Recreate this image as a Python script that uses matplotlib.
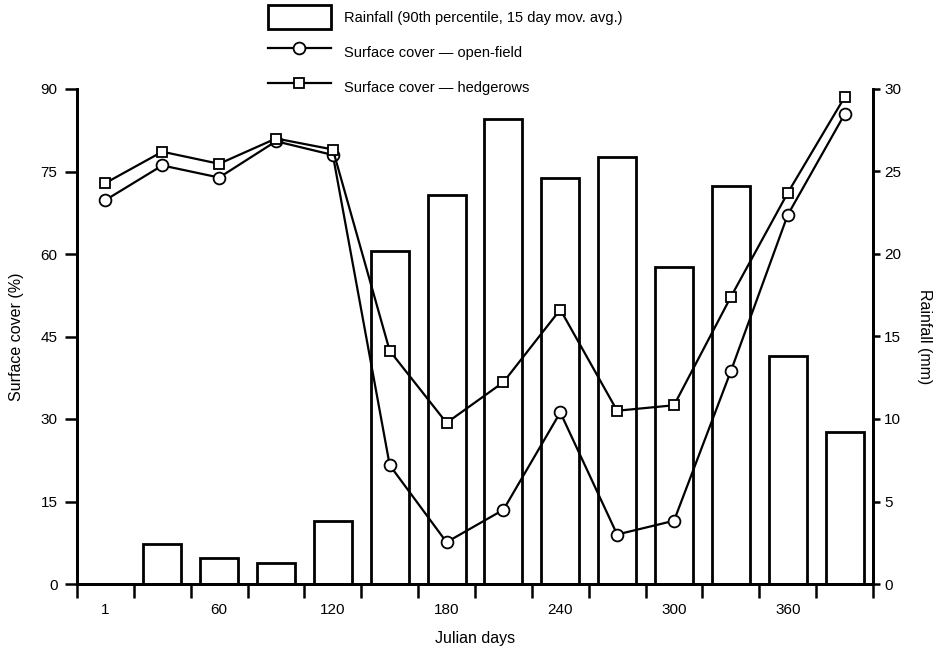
import matplotlib.pyplot as plt
from matplotlib.ticker import FixedLocator, NullFormatter

plt.rcParams['font.family'] = ['Liberation Sans', 'DejaVu Sans']
plt.rcParams['font.size'] = 11

# Data
days = [0, 30, 60, 90, 120, 150, 180, 210, 240, 270, 300, 330, 360, 390]
open_field = [69.8, 76.1, 73.9, 80.5, 78.0, 21.6, 7.6, 13.5, 31.2, 9.0, 11.5, 38.7, 67.1, 85.4]
hedgerows = [72.9, 78.6, 76.4, 81.0, 79.0, 42.4, 29.3, 36.7, 49.9, 31.5, 32.5, 52.2, 71.1, 88.5]

rain_days = [30, 60, 90, 120, 150, 180, 210, 240, 270, 300, 330, 360, 390]
rainfall = [2.4, 1.55, 1.3, 3.8, 20.2, 23.6, 28.2, 24.6, 25.9, 19.2, 24.1, 13.8, 9.2]

xlabels_pos = [0, 60, 120, 180, 240, 300, 360]
xlabels = ['1', '60', '120', '180', '240', '300', '360']

fig = plt.figure(figsize=(9.42, 6.49), dpi=100)
ax = fig.add_axes([77/942, 65/649, 796/942, 495/649])
ax2 = ax.twinx()

# rainfall bars on the right-hand axis
bars = ax2.bar(rain_days, rainfall, width=20, facecolor='white', edgecolor='black',
               linewidth=2.0, label='Rainfall (90th percentile, 15 day mov. avg.)')
ax2.set_ylim(0, 30)
ax2.set_yticks([0, 5, 10, 15, 20, 25, 30])
ax2.set_ylabel('Rainfall (mm)', rotation=270, labelpad=22, fontsize=11.5)

# surface cover lines on top
ax.set_zorder(ax2.get_zorder() + 1)
ax.patch.set_visible(False)
l1, = ax.plot(days, open_field, color='black', lw=1.6, marker='o', ms=8.5,
              mfc='white', mec='black', mew=1.3, label='Surface cover \u2014 open-field')
l2, = ax.plot(days, hedgerows, color='black', lw=1.6, marker='s', ms=6.5,
              mfc='white', mec='black', mew=1.3, label='Surface cover \u2014 hedgerows')

ax.set_xlim(-15, 405)
ax.set_ylim(0, 90)
ax.set_yticks([0, 15, 30, 45, 60, 75, 90])
ax.xaxis.set_major_locator(FixedLocator(list(range(-15, 406, 30))))
ax.xaxis.set_major_formatter(NullFormatter())
ax.xaxis.set_minor_locator(FixedLocator(xlabels_pos))
ax.set_xticklabels(xlabels, minor=True)
ax.tick_params(axis='x', which='major', length=10, width=1.8, direction='out')
ax.tick_params(axis='x', which='minor', length=0, pad=14)
ax.tick_params(axis='y', length=9, width=1.8, direction='out', pad=5)
ax2.tick_params(axis='y', length=5, width=1.8, direction='out', pad=3)

ax.set_xlabel('Julian days', labelpad=10, fontsize=11.5)
ax.set_ylabel('Surface cover (%)', labelpad=12, fontsize=11.5)

for a in (ax, ax2):
    for s in a.spines.values():
        s.set_linewidth(2.0)
    a.spines['top'].set_visible(False)

fig.legend(handles=[bars, l1, l2], loc='upper left', bbox_to_anchor=(268/942, 1 - 5/649),
           frameon=False, fontsize=10.5, handlelength=4.3, handleheight=2.2,
           handletextpad=0.9, labelspacing=0.72, borderpad=0, borderaxespad=0)

fig.savefig('out.png', dpi=100)
